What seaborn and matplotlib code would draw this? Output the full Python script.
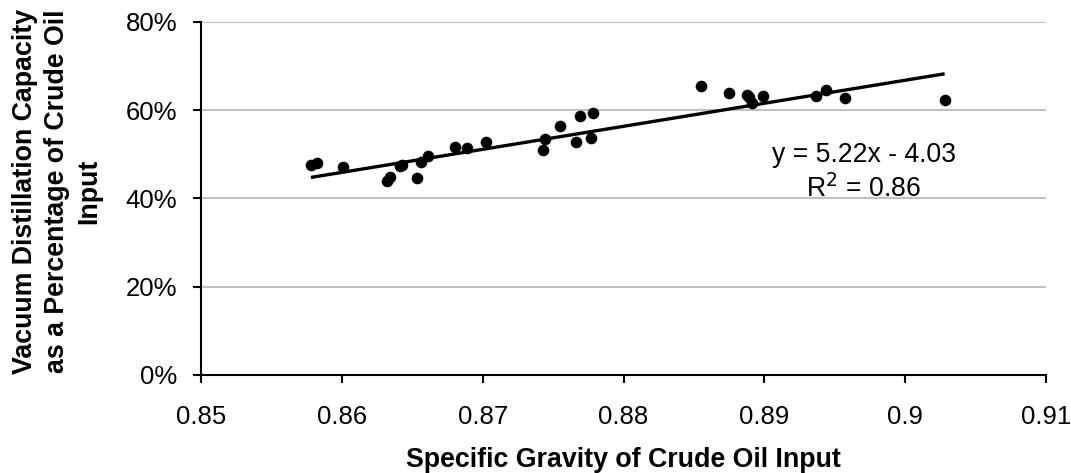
import matplotlib
matplotlib.use("Agg")
import matplotlib.pyplot as plt
from matplotlib.ticker import PercentFormatter, FuncFormatter
import numpy as np
import pandas as pd
import seaborn as sns

# Specific gravity of crude oil input for each refinery
specific_gravity = [
    0.8578, 0.8582, 0.8601, 0.8632, 0.8634, 0.8641, 0.8643, 0.8653, 0.8656,
    0.8661, 0.8680, 0.8689, 0.8702, 0.8743, 0.8744, 0.8755, 0.8766, 0.8769,
    0.8777, 0.8778, 0.8855, 0.8875, 0.8888, 0.8889, 0.8891, 0.8899, 0.8937,
    0.8944, 0.8957, 0.9028,
]
# Vacuum distillation capacity as a share of crude oil input
vacuum_share = [
    0.475, 0.480, 0.471, 0.439, 0.449, 0.474, 0.476, 0.447, 0.483,
    0.497, 0.516, 0.515, 0.529, 0.510, 0.534, 0.565, 0.529, 0.587,
    0.536, 0.593, 0.656, 0.638, 0.635, 0.630, 0.616, 0.633, 0.632,
    0.647, 0.628, 0.623,
]
# Linear trend line reported on the chart
slope = 5.22
intercept = -4.03
r_squared = 0.86

x_ticks = [0.85, 0.86, 0.87, 0.88, 0.89, 0.90, 0.91]
y_ticks = [0.0, 0.2, 0.4, 0.6, 0.8]

df = pd.DataFrame({"sg": specific_gravity, "vac": vacuum_share})

sns.set_theme(style="white")
plt.rcParams["font.family"] = ["Liberation Sans", "DejaVu Sans"]

fig = plt.figure(figsize=(10.71, 4.73), dpi=100)
ax = fig.add_axes([0.1877, 0.2072, 0.7890, 0.7463])

# horizontal gridlines
for yv in y_ticks[1:]:
    ax.axhline(yv, color="#c0c0c0", lw=1.5, zorder=0)

sns.scatterplot(data=df, x="sg", y="vac", ax=ax, color="black", s=70,
                edgecolor="black", linewidth=0, zorder=3)

xs = np.array([min(specific_gravity), max(specific_gravity)])
ax.plot(xs, slope * xs + intercept, color="black", lw=2.4, zorder=2,
        solid_capstyle="butt")

ax.set_xlim(0.85, 0.91)
ax.set_ylim(0.0, 0.8)
ax.set_xticks(x_ticks)
ax.set_yticks(y_ticks)
ax.xaxis.set_major_formatter(FuncFormatter(lambda v, p: f"{v:g}"))
ax.yaxis.set_major_formatter(PercentFormatter(xmax=1, decimals=0))

for side in ["top", "right"]:
    ax.spines[side].set_visible(False)
for side in ["left", "bottom"]:
    ax.spines[side].set_color("black")
    ax.spines[side].set_linewidth(1.5)

ax.tick_params(axis="both", which="major", direction="out", length=6,
               width=1.5, color="black", labelsize=18.5, labelcolor="black",
               bottom=True, left=True)
ax.tick_params(axis="x", pad=15.5)
ax.tick_params(axis="y", pad=11)

ax.set_xlabel("Specific Gravity of Crude Oil Input", fontsize=19.3,
              fontweight="bold", labelpad=13, color="black")
ax.set_ylabel("Vacuum Distillation Capacity\nas a Percentage of Crude Oil\nInput",
              fontsize=19.3, fontweight="bold", color="black",
              linespacing=1.3)
ax.yaxis.set_label_coords(-0.117, 0.52)

eq_x = 0.89705
ax.text(eq_x, 0.4834, f"y = {slope:.2f}x - {abs(intercept):.2f}",
        ha="center", va="baseline", fontsize=19.2, color="black")
ax.text(eq_x, 0.4041, f"R$^2$ = {r_squared:.2f}",
        ha="center", va="baseline", fontsize=19.2, color="black")

fig.savefig("out.png", dpi=100)
